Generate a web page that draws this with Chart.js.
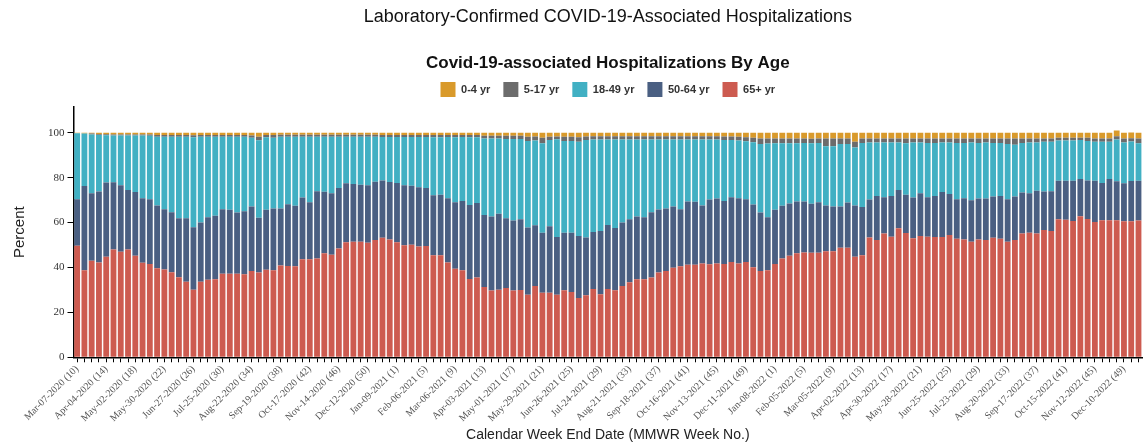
<!DOCTYPE html>
<html>
<head>
<meta charset="utf-8">
<script src="https://cdn.jsdelivr.net/npm/chart.js@4.4.1/dist/chart.umd.min.js"></script>
<style>
  html, body { margin: 0; padding: 0; background: #fff; }
  #wrap { width: 1148px; height: 446px; position: relative; }
</style>
</head>
<body>
<div id="wrap"><canvas id="chart"></canvas></div>
<script>
// age groups, bottom of the stack first
const ageGroups = ['65+ yr', '50-64 yr', '18-49 yr', '5-17 yr', '0-4 yr']
const ageColors = ['#CD5B50', '#4A5F82', '#41B0C3', '#6C6C6C', '#D99A2B']

// percent of weekly hospitalizations
const age65plus = [
  49.7,38.8,43.0,42.2,44.8,48.0,47.0,48.0,45.2,42.1,
  41.6,39.7,39.1,37.9,35.7,33.6,30.1,33.7,34.5,34.8,
  37.2,37.2,37.2,37.0,38.4,37.8,39.0,38.8,40.9,40.7,
  40.6,43.7,43.7,44.0,46.3,45.7,48.5,51.2,51.5,51.5,
  51.0,52.2,53.3,52.5,51.2,49.9,50.1,49.4,49.6,45.5,
  45.4,42.2,39.4,38.8,34.9,35.5,31.3,29.7,30.1,30.9,
  29.7,30.0,27.9,31.8,28.8,28.8,27.9,29.9,29.1,26.4,
  27.6,30.4,28.1,30.4,29.9,31.8,33.4,34.8,34.8,35.5,
  37.8,38.4,39.9,40.6,41.2,41.2,41.8,41.5,41.8,41.6,
  42.5,41.8,42.4,40.1,38.4,38.8,41.6,44.0,45.2,46.3,
  46.7,46.6,46.6,47.2,47.2,48.8,48.8,44.8,45.4,53.4,
  52.2,55.1,53.7,57.5,55.4,53.0,54.0,53.7,53.6,53.6,
  54.5,52.8,52.5,51.5,52.5,52.2,53.3,52.8,51.5,52.2,
  55.1,55.5,55.1,56.7,56.3,61.5,61.3,60.7,62.8,61.6,
  60.3,61.0,61.0,61.0,60.6,60.6,60.9
]
const age50to64 = [
  20.7,37.5,30.1,31.7,33.1,30.0,29.6,26.5,28.4,28.8,
  28.8,27.9,26.9,26.7,26.2,28.3,27.8,26.4,27.9,28.3,
  28.8,28.5,27.3,28.1,28.8,24.4,26.7,27.5,25.4,27.5,
  26.9,27.5,25.4,30.0,27.4,27.4,26.9,26.3,25.7,25.4,
  25.6,26.0,25.5,25.6,26.4,26.7,26.3,26.3,25.8,26.7,
  27.0,28.7,29.7,30.8,32.9,33.2,32.1,33.0,33.8,31.0,
  31.2,31.5,29.9,27.0,26.7,29.6,25.7,25.6,26.4,27.6,
  25.8,25.4,28.2,28.5,27.7,28.3,28.1,27.9,27.6,29.1,
  28.0,27.9,27.3,25.4,28.2,28.1,25.8,28.8,28.9,28.0,
  28.8,29.1,28.0,28.0,26.1,23.6,24.1,23.5,23.3,23.1,
  22.7,21.8,22.5,20.4,20.0,18.4,20.2,22.8,21.6,16.9,
  19.7,16.2,18.2,17.0,17.0,18.2,19.1,17.6,18.3,20.0,
  18.2,17.6,18.4,18.5,18.2,18.5,18.3,19.1,18.9,19.4,
  18.3,17.6,19.1,17.2,17.7,17.2,17.4,18.0,16.6,17.2,
  18.4,16.6,18.4,17.4,16.9,17.9,17.8
]
const age18to49 = [
  29.4,23.4,26.1,25.1,21.0,20.8,22.2,24.3,25.2,27.9,
  28.3,30.6,32.2,33.6,36.3,36.3,40.1,38.1,35.8,35.1,
  32.2,32.5,33.7,33.1,30.6,34.5,32.3,31.5,32.0,30.1,
  30.8,27.1,29.2,24.3,24.6,25.2,22.9,20.8,21.1,21.4,
  21.7,20.1,19.3,20.0,20.5,21.5,21.7,22.4,22.7,25.8,
  25.6,27.2,28.9,28.5,30.2,29.3,34.1,34.8,33.6,35.3,
  36.3,35.7,38.5,37.8,39.8,38.4,43.5,40.8,40.8,42.0,
  43.4,41.2,40.7,38.1,39.4,36.9,35.5,34.3,34.6,32.4,
  31.2,30.7,29.8,31.0,27.6,27.7,29.4,26.7,26.3,27.2,
  25.5,25.7,25.8,27.7,30.5,32.8,29.6,27.8,26.8,25.9,
  26.1,26.9,26.4,26.4,26.8,27.8,26.0,25.9,28.5,25.4,
  23.8,24.4,23.8,21.2,22.9,24.5,22.6,24.2,23.6,22.1,
  23.0,25.1,24.6,25.7,24.8,25.0,23.9,23.6,24.6,23.1,
  22.1,22.6,21.5,22.1,22.0,17.9,17.9,17.9,17.4,17.5,
  17.3,18.4,16.6,18.6,18.2,17.6,16.6
]
const age5to17 = [
  0.0,0.0,0.5,0.4,0.5,0.5,0.5,0.5,0.5,0.5,
  0.6,0.8,0.8,0.8,0.8,0.8,0.9,0.8,0.8,0.8,
  0.8,0.8,0.8,0.8,1.0,1.5,1.0,1.2,0.8,0.8,
  0.8,0.8,0.8,0.8,0.8,0.8,0.8,0.8,0.8,0.8,
  0.8,0.8,0.9,0.9,0.9,0.9,0.9,0.9,0.9,1.0,
  1.0,0.9,1.0,0.9,1.0,1.0,1.2,1.2,1.2,1.5,
  1.5,1.5,2.0,1.8,2.5,1.5,1.3,2.0,2.0,2.0,
  1.6,1.5,1.5,1.5,1.5,1.5,1.5,1.5,1.5,1.5,
  1.5,1.5,1.5,1.5,1.5,1.5,1.5,1.5,1.5,1.6,
  1.6,1.7,1.8,2.0,2.5,2.3,2.2,2.2,2.2,2.2,
  2.0,2.0,2.0,3.5,3.5,2.5,2.5,2.5,2.0,1.8,
  1.8,1.8,1.8,1.8,2.2,1.8,1.8,2.0,2.0,1.8,
  1.8,2.0,2.0,1.8,2.0,1.8,2.0,2.0,2.5,2.8,
  2.0,1.8,1.8,1.5,1.5,1.2,1.2,1.2,1.0,1.5,
  1.5,1.5,1.5,1.5,1.8,1.5,2.2
]
const age0to4 = [
  0.2,0.3,0.3,0.6,0.6,0.7,0.7,0.7,0.7,0.7,
  0.7,1.0,1.0,1.0,1.0,1.0,1.1,1.0,1.0,1.0,
  1.0,1.0,1.0,1.0,1.2,1.8,1.0,1.0,0.9,0.9,
  0.9,0.9,0.9,0.9,0.9,0.9,0.9,0.9,0.9,0.9,
  0.9,0.9,1.0,1.0,1.0,1.0,1.0,1.0,1.0,1.0,
  1.0,1.0,1.0,1.0,1.0,1.0,1.3,1.3,1.3,1.3,
  1.3,1.3,1.7,1.6,2.2,1.7,1.6,1.7,1.7,2.0,
  1.6,1.5,1.5,1.5,1.5,1.5,1.5,1.5,1.5,1.5,
  1.5,1.5,1.5,1.5,1.5,1.5,1.5,1.5,1.5,1.6,
  1.6,1.7,2.0,2.2,2.5,2.5,2.5,2.5,2.5,2.5,
  2.5,2.7,2.5,2.5,2.5,2.5,2.5,4.0,2.5,2.5,
  2.5,2.5,2.5,2.5,2.5,2.5,2.5,2.5,2.5,2.5,
  2.5,2.5,2.5,2.5,2.5,2.5,2.5,2.5,2.5,2.5,
  2.5,2.5,2.5,2.5,2.5,2.2,2.2,2.2,2.2,2.2,
  2.5,2.5,2.5,2.5,2.5,2.5,2.5
]
const series = [age65plus, age50to64, age18to49, age5to17, age0to4]

// week end dates (Saturdays) with MMWR week number, first week Mar-07-2020 = week 10
const monthNames = ['Jan','Feb','Mar','Apr','May','Jun','Jul','Aug','Sep','Oct','Nov','Dec']
const weekLabels = []
let weekNo = 10
for (let i = 0; i < age65plus.length; i++) {
    const d = new Date(2020, 2, 7 + 7 * i)
    if (i > 0) weekNo = (d.getMonth() === 0 && d.getDate() >= 4 && d.getDate() <= 10) ? 1 : weekNo + 1
    const dd = String(d.getDate()).padStart(2, '0')
    weekLabels.push(monthNames[d.getMonth()] + '-' + dd + '-' + d.getFullYear() + ' (' + weekNo + ')')
}

const sans = "'Liberation Sans', Arial, sans-serif"
const serif = "'Liberation Serif', 'Times New Roman', serif"
Chart.defaults.font.family = sans
Chart.defaults.color = '#222'

const ctx = document.getElementById('chart').getContext('2d')
new Chart(ctx, {
    type: 'bar',
    data: {
        labels: weekLabels,
        datasets: series.map((vals, k) => ({
            label: ageGroups[k],
            data: vals,
            backgroundColor: ageColors[k],
            borderWidth: 0,
            barPercentage: 0.8,
            categoryPercentage: 1
        }))
    },
    options: {
        responsive: true,
        maintainAspectRatio: false,
        animation: false,
        layout: { padding: { top: 6, left: 11, right: 2, bottom: 2 } },
        plugins: {
            title: {
                display: true,
                fullSize: false,
                text: 'Laboratory-Confirmed COVID-19-Associated Hospitalizations',
                color: '#111',
                font: { size: 18, weight: 'normal' },
                padding: { top: 0, bottom: 26 }
            },
            subtitle: {
                display: true,
                fullSize: false,
                text: 'Covid-19-associated Hospitalizations By Age',
                color: '#111',
                font: { size: 17, weight: 'bold' },
                padding: { top: 0, bottom: -5 }
            },
            legend: {
                fullSize: false,
                reverse: true,
                labels: {
                    boxWidth: 15,
                    boxHeight: 15,
                    padding: 13,
                    color: '#333',
                    font: { size: 11, weight: 'bold' }
                }
            },
            tooltip: { enabled: false }
        },
        scales: {
            x: {
                stacked: true,
                grid: { display: true, drawOnChartArea: false, offset: false, tickLength: 5, tickColor: '#000' },
                border: { display: true, color: '#000', width: 1.5 },
                ticks: {
                    autoSkip: false,
                    maxRotation: 45,
                    minRotation: 45,
                    padding: 1,
                    color: '#555',
                    font: { family: serif, size: 10 },
                    callback: (v, i) => i % 4 === 0 ? weekLabels[i] : ''
                },
                title: {
                    display: true,
                    text: 'Calendar Week End Date (MMWR Week No.)',
                    color: '#222',
                    font: { size: 14 },
                    padding: { top: 2, bottom: 0 }
                }
            },
            y: {
                stacked: true,
                min: 0,
                max: 111.5,
                grid: { display: true, drawOnChartArea: false, tickLength: 6, tickColor: '#000' },
                border: { display: true, color: '#000', width: 1.5 },
                ticks: {
                    stepSize: 20,
                    includeBounds: false,
                    padding: 3,
                    color: '#333',
                    font: { family: serif, size: 11 }
                },
                title: {
                    display: true,
                    text: 'Percent',
                    color: '#222',
                    font: { size: 15 },
                    padding: { top: 0, bottom: 16 }
                }
            }
        }
    }
})
</script>
</body>
</html>
